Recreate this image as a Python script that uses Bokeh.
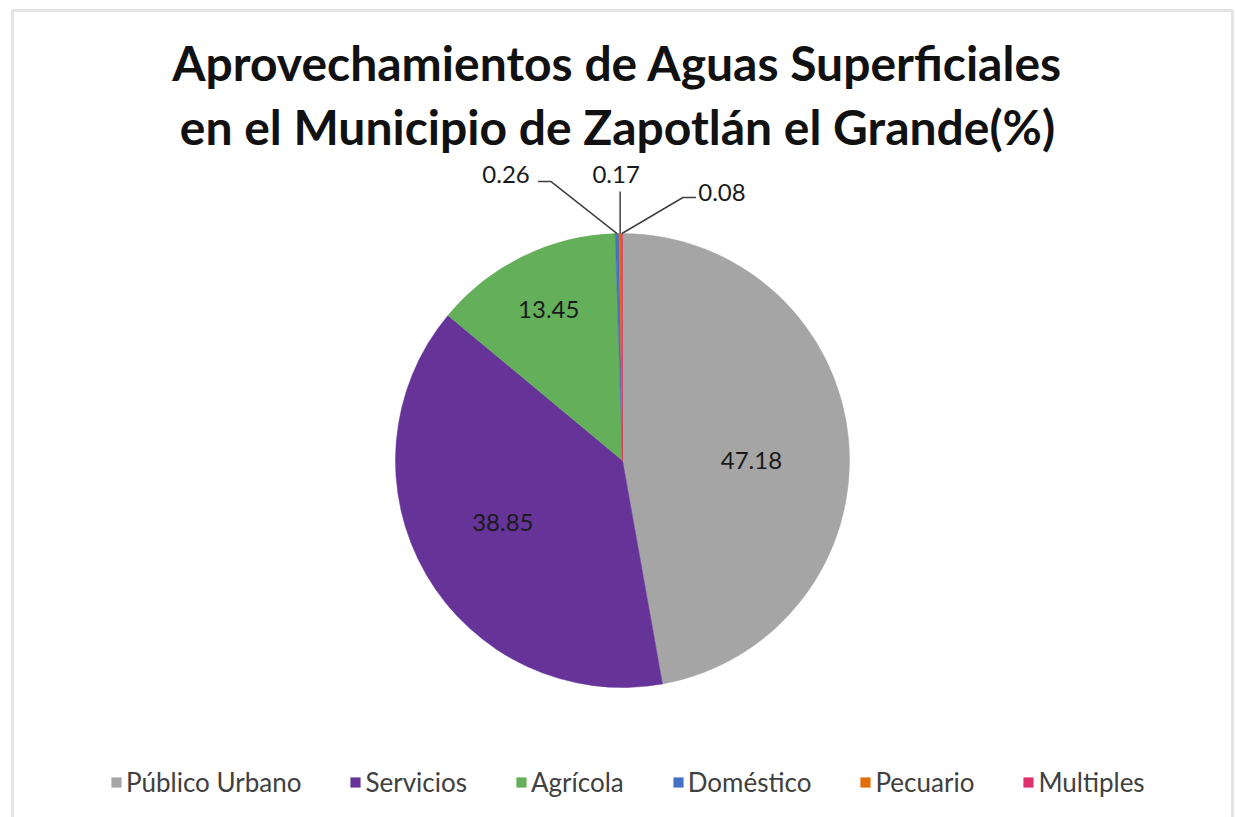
import numpy as np
from bokeh.plotting import figure
from bokeh.models import Range1d, ColumnDataSource, Label, BoxAnnotation, Legend, LegendItem
from bokeh.core.properties import value
from bokeh.embed import file_html
from bokeh.resources import INLINE

# ---- data ----
names = ["Público Urbano", "Servicios", "Agrícola", "Doméstico", "Pecuario", "Multiples"]
values = [47.18, 38.85, 13.45, 0.26, 0.17, 0.08]
labels = ["47.18", "38.85", "13.45", "0.26", "0.17", "0.08"]
colors = ["#A5A5A5", "#663399", "#64AF5A", "#4472C4", "#E46C0A", "#E0306A"]
title_lines = ["Aprovechamientos de Aguas Superficiales",
               "en el Municipio de Zapotlán el Grande(%)"]

# ---- layout (pixels) ----
W, H = 1235, 817
CX, CY_PX, R = 622, 460, 227
CY = H - CY_PX

vals = np.array(values, dtype=float)
frac = vals / vals.sum()
cum = np.cumsum(frac)
start = np.pi / 2 - 2 * np.pi * (cum - frac)
end = np.pi / 2 - 2 * np.pi * cum
mid = (start + end) / 2

p = figure(width=W, height=H, x_range=Range1d(0, W), y_range=Range1d(0, H),
           output_backend="svg", toolbar_location=None, min_border=0)
p.axis.visible = False
p.grid.visible = False
p.outline_line_color = None
p.background_fill_color = "white"
p.border_fill_color = "white"

# frame border
p.add_layout(BoxAnnotation(left=12, right=1232, bottom=-50, top=H - 10,
                           fill_alpha=0, line_color="#A6A6A6", line_width=3))

src = ColumnDataSource(dict(name=names, start=start, end=end, color=colors))
r = p.wedge(x=CX, y=CY, radius=R, start_angle="start", end_angle="end",
            direction="clock", fill_color="color", line_color="color",
            line_width=0.5, source=src)

legend = Legend(items=[LegendItem(label=n, renderers=[r], index=i) for i, n in enumerate(names)],
                orientation="horizontal")
legend.location = (110, 19)
legend.glyph_width = 12
legend.glyph_height = 12
legend.label_standoff = 4
legend.spacing = 48
legend.padding = 0
legend.margin = 0
legend.border_line_color = None
legend.background_fill_alpha = 0
legend.label_text_font = "Lato"
legend.label_text_font_size = "26px"
legend.label_text_color = "#404040"
p.add_layout(legend)

# inner labels (radial fraction and small vertical nudge, px)
inner_frac = [0.57, 0.61, 0.74]
inner_dy = [-11, 8, 0]
ix = [CX + R * f * np.cos(m) for f, m in zip(inner_frac, mid[:3])]
iy = [CY + R * f * np.sin(m) + d for f, m, d in zip(inner_frac, mid[:3], inner_dy)]
p.text(x=ix, y=iy, text=labels[:3], text_align="center", text_baseline="middle",
       text_font=value("Lato"), text_font_size="24px", text_color="#1a1a1a")

# small slice labels with leader lines (offsets in px from slice edge)
ax = [CX + R * np.cos(m) for m in mid[3:]]
ay = [CY + R * np.sin(m) for m in mid[3:]]
leader_offsets = [[(-66, 52), (-79, 52)], [(0, 42)], [(61, 36), (74, 36)]]
text_offsets = [(-111, 59), (-4, 59), (100, 41)]
xs, ys = [], []
for a_x, a_y, offs in zip(ax, ay, leader_offsets):
    xs.append([a_x] + [a_x + o[0] for o in offs])
    ys.append([a_y] + [a_y + o[1] for o in offs])
p.multi_line(xs=xs, ys=ys, line_color="#404040", line_width=1.5)
tx = [a + o[0] for a, o in zip(ax, text_offsets)]
ty = [a + o[1] for a, o in zip(ay, text_offsets)]
p.text(x=tx, y=ty, text=labels[3:], text_align="center", text_baseline="middle",
       text_font=value("Lato"), text_font_size="24px", text_color="#1a1a1a")

# title
for i, t in enumerate(title_lines):
    p.add_layout(Label(x=617, y=H - (62 + 64 * i), text=t, text_align="center",
                       text_baseline="alphabetic", text_font="Lato",
                       text_font_style="bold", text_font_size="48px",
                       text_color="#111111"))

open("out.html", "w").write(file_html(p, INLINE))
